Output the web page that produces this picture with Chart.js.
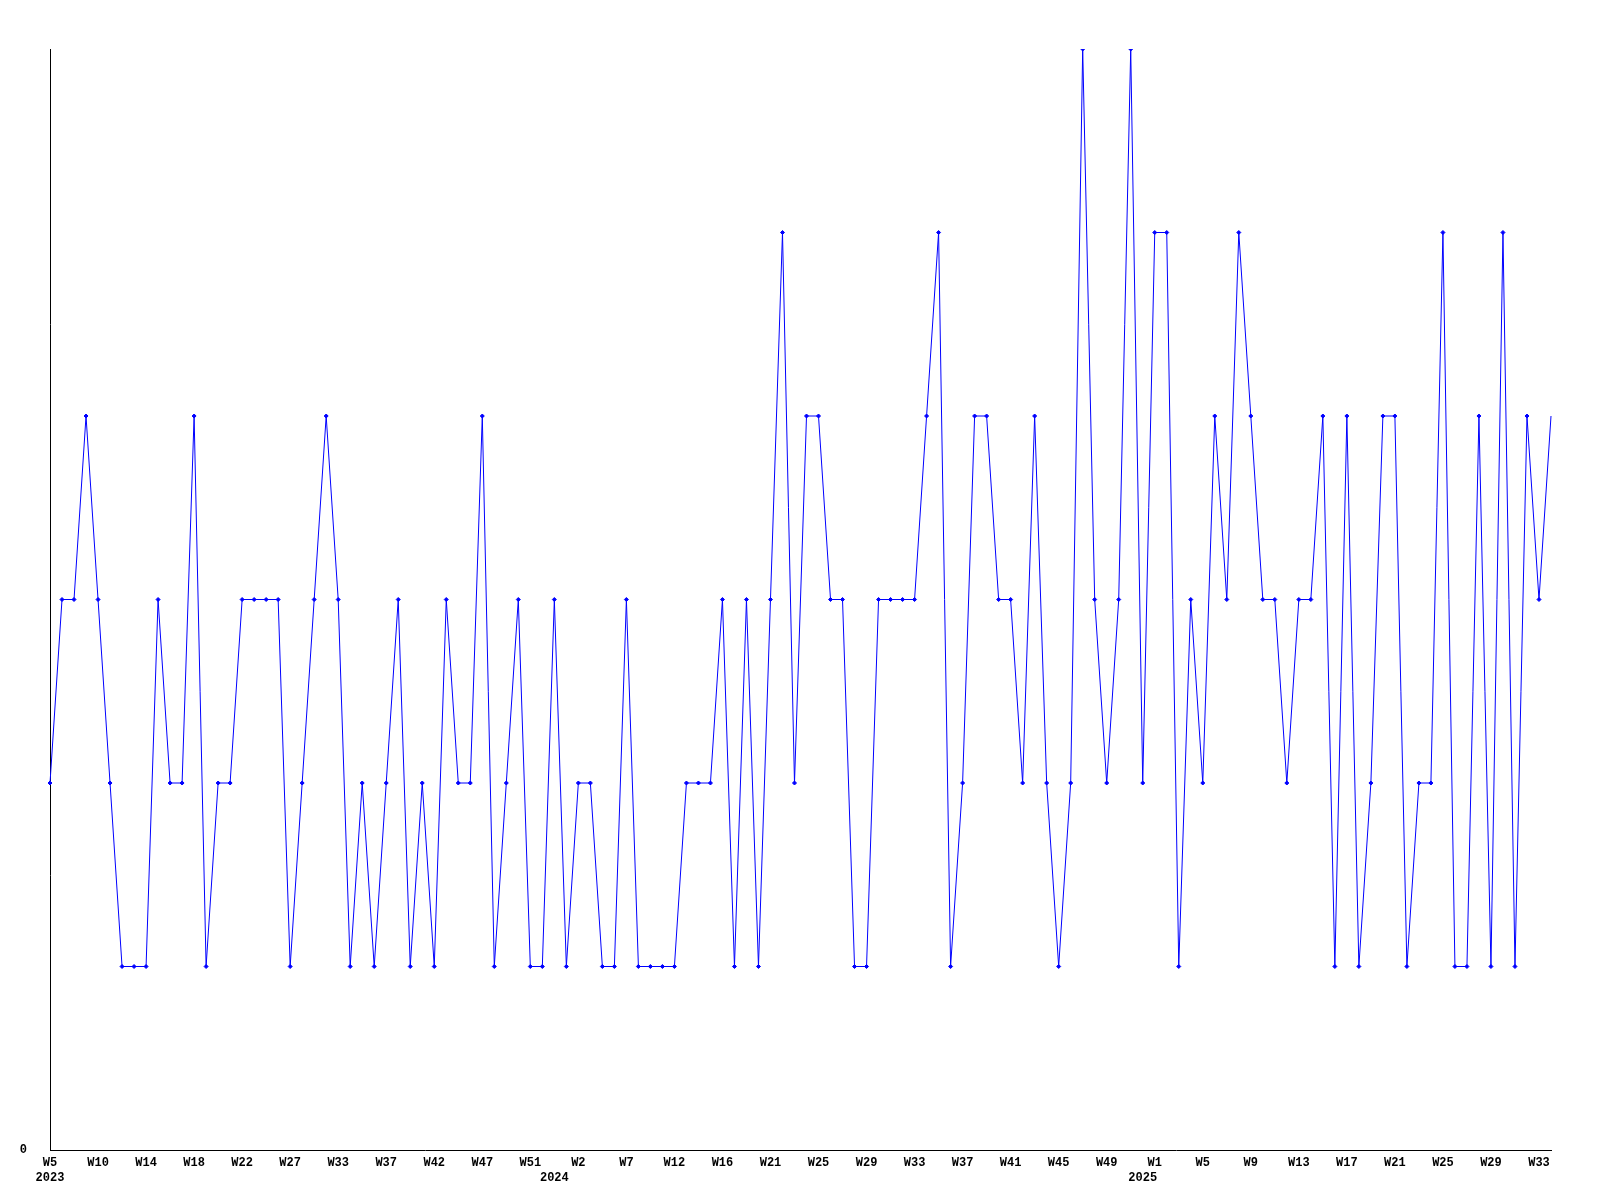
<!DOCTYPE html>
<html>
<head>
<meta charset="utf-8">
<style>
  html, body { margin: 0; padding: 0; background: #ffffff; }
  #wrap { width: 1600px; height: 1200px; }
</style>
<script src="https://cdn.jsdelivr.net/npm/chart.js@4/dist/chart.umd.min.js"></script>
</head>
<body>
<div id="wrap"><canvas id="c" width="1600" height="1200"></canvas></div>
<script>
// Week categories (every 4th one is labelled on the axis)
const weeks = [
  'W5','W6','W7','W8','W10','W11','W12','W13','W14','W15','W16','W17','W18','W19','W20','W21',
  'W22','W23','W24','W25','W27','W28','W29','W31','W33','W34','W35','W36','W37','W38','W39','W40',
  'W42','W43','W44','W45','W47','W48','W49','W50','W51','W52','W0','W1','W2','W3','W4','W5',
  'W7','W8','W9','W10','W12','W13','W14','W15','W16','W17','W18','W19','W21','W22','W23','W24',
  'W25','W26','W27','W28','W29','W30','W31','W32','W33','W34','W35','W36','W37','W38','W39','W40',
  'W41','W42','W43','W44','W45','W46','W47','W48','W49','W50','W51','W52','W1','W2','W3','W4',
  'W5','W6','W7','W8','W9','W10','W11','W12','W13','W14','W15','W16','W17','W18','W19','W20',
  'W21','W22','W23','W24','W25','W26','W27','W28','W29','W30','W31','W32','W33','W34'
];
// Year shown beneath the first point of each year (by category index)
const yearMarks = { 0: '2023', 42: '2024', 91: '2025' };

const values = [
  2,3,3,4,3,2,1,1,1,3,2,2,4,1,2,2,
  3,3,3,3,1,2,3,4,3,1,2,1,2,3,1,2,
  1,3,2,2,4,1,2,3,1,1,3,1,2,2,1,1,
  3,1,1,1,1,2,2,2,3,1,3,1,3,5,2,4,
  4,3,3,1,1,3,3,3,3,4,5,1,2,4,4,3,
  3,2,4,2,1,2,6,3,2,3,6,2,5,5,1,3,
  2,4,3,5,4,3,3,2,3,3,4,1,4,1,2,4,
  4,1,2,2,5,1,1,4,1,5,1,4,3,4
];

const yTickValues = [0];
const labelEvery = 4;

const lastIndex = values.length - 1;

function tickLabel(i) {
  const shown = i % labelEvery === 0;
  const yr = yearMarks[i];
  if (shown && yr) return [weeks[i], yr];
  if (shown) return weeks[i];
  if (yr) return ['', yr];
  return null;
}

const tickFont = { family: '"Liberation Mono", "DejaVu Sans Mono", monospace', size: 12, weight: 'bold', lineHeight: 1.25 };

new Chart(document.getElementById('c'), {
  type: 'line',
  data: {
    labels: weeks,
    datasets: [{
      data: values,
      borderColor: '#0000ff',
      backgroundColor: '#0000ff',
      borderWidth: 1,
      tension: 0,
      fill: false,
      pointStyle: 'rectRot',
      pointRadius: ctx => ctx.dataIndex === lastIndex ? 0 : 2,
      pointBorderWidth: 1,
      pointBorderColor: '#0000ff',
      pointBackgroundColor: '#0000ff'
    }]
  },
  options: {
    responsive: false,
    animation: false,
    events: [],
    layout: { padding: { top: 49, right: 49, bottom: 0, left: 0 } },
    plugins: { legend: { display: false }, tooltip: { enabled: false }, title: { display: false } },
    scales: {
      x: {
        type: 'category',
        offset: false,
        grid: { display: false, drawTicks: false },
        border: { display: true, color: '#000000', width: 1 },
        ticks: {
          autoSkip: false,
          maxRotation: 0,
          minRotation: 0,
          padding: 5,
          color: '#000000',
          font: tickFont,
          callback: function(v, i) { return tickLabel(i); }
        },
        afterFit: s => { s.height = 50; }
      },
      y: {
        min: 0,
        max: 6,
        grid: { display: false, drawTicks: false },
        border: { display: true, color: '#000000', width: 1 },
        afterBuildTicks: s => { s.ticks = yTickValues.map(v => ({ value: v })); },
        ticks: {
          padding: 23,
          color: '#000000',
          font: tickFont,
          callback: v => String(v)
        },
        afterFit: s => { s.width = 50; }
      }
    }
  }
});
</script>
</body>
</html>
